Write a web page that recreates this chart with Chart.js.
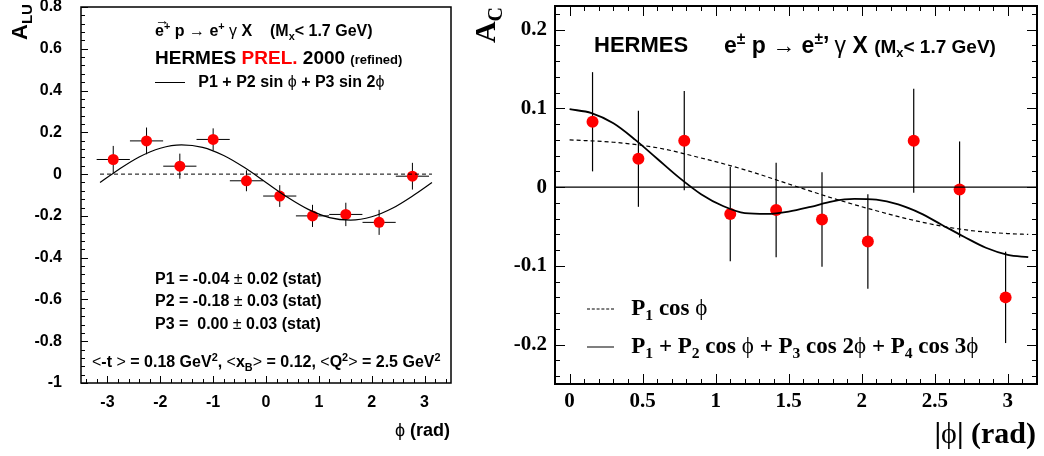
<!DOCTYPE html>
<html>
<head>
<meta charset="utf-8">
<script src="https://cdn.jsdelivr.net/npm/chart.js@4.4.0/dist/chart.umd.min.js"></script>
<style>
  body { margin: 0; background: #fff; }
  #wrap { position: relative; width: 1044px; height: 456px; overflow: hidden; }
  canvas { position: absolute; top: 0; }
  .lbl { position: absolute; white-space: nowrap; font-family: "Liberation Sans", Arial, sans-serif;
         font-weight: bold; color: #000; line-height: 1; transform: translateY(-50%); }
  .serif { font-family: "Liberation Serif", "Times New Roman", serif; }
  .sym { font-weight: normal; }
  sub, sup { font-size: 68%; line-height: 0; }
  .red { color: #ff0000; }
  .vec { position: relative; display: inline-block; }
  .vec i { position: absolute; left: 0; top: -0.68em; font-style: normal; font-weight: normal; font-size: 0.9em; }
  .key { display: inline-block; width: 27px; vertical-align: middle; }
</style>
</head>
<body>
<div id="wrap">
  <canvas id="alu" width="470" height="456" style="left:0"></canvas>
  <canvas id="ac" width="574" height="456" style="left:470px"></canvas>

  <!-- left panel text -->
  <div class="lbl" style="left:2px;top:22px;transform:translate(0,-50%) rotate(-90deg);transform-origin:center;font-size:22px">A<sub style="font-size:15px">LU</sub></div>
  <div class="lbl" style="left:155px;top:31px;font-size:16px"><span class="vec">e<i>&rarr;</i></span><sup>+</sup> p <span class="sym">&rarr;</span> e<sup>+</sup> <span class="sym">&gamma;</span> X &nbsp;&nbsp; (M<sub>x</sub>&lt; 1.7 GeV)</div>
  <div class="lbl" style="left:155px;top:57px;font-size:19px">HERMES <span class="red">PREL.</span> 2000 <span style="font-size:13px">(refined)</span></div>
  <div class="lbl" style="left:155px;top:82px;font-size:16px"><span class="key" style="width:30px;border-top:1.2px solid #000"></span>&nbsp;&nbsp; P1 + P2 sin <span class="sym">&#981;</span> + P3 sin 2<span class="sym">&#981;</span></div>
  <div class="lbl" style="left:155px;top:279px;font-size:16px">P1 = -0.04 <span class="sym">&plusmn;</span> 0.02 (stat)</div>
  <div class="lbl" style="left:155px;top:301px;font-size:16px">P2 = -0.18 <span class="sym">&plusmn;</span> 0.03 (stat)</div>
  <div class="lbl" style="left:155px;top:324px;font-size:16px">P3 = &nbsp;0.00 <span class="sym">&plusmn;</span> 0.03 (stat)</div>
  <div class="lbl" style="left:92px;top:362px;font-size:16px"><span class="sym">&lt;</span>-t <span class="sym">&gt;</span> = 0.18 GeV<sup>2</sup>, <span class="sym">&lt;</span>x<sub>B</sub><span class="sym">&gt;</span> = 0.12, <span class="sym">&lt;</span>Q<sup>2</sup><span class="sym">&gt;</span> = 2.5 GeV<sup>2</sup></div>
  <div class="lbl" style="right:594px;top:430px;font-size:18px"><span class="sym">&#981;</span> (rad)</div>

  <!-- right panel text -->
  <div class="lbl serif" style="left:467px;top:25px;transform:translate(0,-50%) rotate(-90deg);transform-origin:center;font-size:30px">A<sub style="font-size:20px">C</sub></div>
  <div class="lbl" style="left:594px;top:45px;font-size:22px">HERMES</div>
  <div class="lbl" style="left:724px;top:45px;font-size:23px">e<sup>&plusmn;</sup> p <span class="sym">&rarr;</span> e<sup>&plusmn;</sup>&rsquo; <span class="sym">&gamma;</span> X <span style="font-size:19px">(M<sub>x</sub>&lt; 1.7 GeV)</span></div>
  <div class="lbl serif" style="left:587px;top:307px;font-size:23px"><span class="key" style="border-top:1.2px dashed #000"></span>&nbsp;&nbsp; P<sub>1</sub> cos <span class="sym">&#981;</span></div>
  <div class="lbl serif" style="left:587px;top:345px;font-size:23px"><span class="key" style="border-top:1.6px solid #000"></span>&nbsp;&nbsp; P<sub>1</sub> + P<sub>2</sub> cos <span class="sym">&#981;</span> + P<sub>3</sub> cos 2<span class="sym">&#981;</span> + P<sub>4</sub> cos 3<span class="sym">&#981;</span></div>
  <div class="lbl serif" style="right:8px;top:433px;font-size:30px">|<span class="sym">&#981;</span>| (rad)</div>
</div>

<script>
// ---- beam-spin asymmetry A_LU vs phi ----
const aluPhi  = [-2.89, -2.26, -1.63, -1.00, -0.37, 0.26, 0.88, 1.51, 2.14, 2.77];
const aluVal  = [0.070, 0.159, 0.038, 0.166, -0.032, -0.105, -0.200, -0.193, -0.231, -0.010];
const aluErr  = [0.065, 0.064, 0.060, 0.053, 0.050, 0.052, 0.053, 0.056, 0.060, 0.064];
const aluBinHalf = [0.314, 0.314, 0.314, 0.314, 0.314, 0.314, 0.314, 0.314, 0.314, 0.314];
// fitted curve P1 + P2 sin(phi) + P3 sin(2 phi)
const aluFitPhi = [-3.14, -2.8, -2.4, -2.0, -1.6, -1.2, -0.8, -0.4, 0.0, 0.4, 0.8, 1.2, 1.6, 2.0, 2.4, 2.8, 3.14];
const aluFitVal = [-0.040, 0.020, 0.082, 0.124, 0.140, 0.128, 0.089, 0.030, -0.040, -0.110, -0.169, -0.208, -0.220, -0.204, -0.162, -0.100, -0.040];
const aluXTicks = [-3, -2, -1, 0, 1, 2, 3];
const aluYTicks = [-1, -0.8, -0.6, -0.4, -0.2, 0, 0.2, 0.4, 0.6, 0.8];

// ---- beam-charge asymmetry A_C vs |phi| ----
const acPhi = [0.157, 0.471, 0.785, 1.100, 1.414, 1.728, 2.042, 2.356, 2.670, 2.985];
const acVal = [0.083, 0.036, 0.059, -0.034, -0.029, -0.041, -0.069, 0.059, -0.003, -0.140];
const acErr = [0.063, 0.061, 0.063, 0.060, 0.060, 0.060, 0.060, 0.066, 0.061, 0.058];
// P1 cos(phi)
const acCosPhi = [0, 0.3, 0.6, 0.9, 1.2, 1.5, 1.8, 2.1, 2.4, 2.7, 3.0, 3.14];
const acCosVal = [0.060, 0.057, 0.050, 0.037, 0.022, 0.004, -0.014, -0.030, -0.044, -0.054, -0.059, -0.060];
// P1 + P2 cos(phi) + P3 cos(2 phi) + P4 cos(3 phi)
const acFitPhi = [0, 0.15, 0.3, 0.45, 0.6, 0.75, 0.9, 1.05, 1.2, 1.35, 1.5, 1.65, 1.8, 1.95, 2.1, 2.25, 2.4, 2.55, 2.7, 2.85, 3.0, 3.14];
const acFitVal = [0.099, 0.094, 0.081, 0.060, 0.036, 0.012, -0.009, -0.024, -0.033, -0.034, -0.031, -0.025, -0.018, -0.015, -0.016, -0.022, -0.033, -0.048, -0.063, -0.077, -0.086, -0.089];
const acXTicks = [0, 0.5, 1, 1.5, 2, 2.5, 3];
const acYTicks = [-0.2, -0.1, 0, 0.1, 0.2];

const xy = (xs, ys) => xs.map((x, i) => ({ x: x, y: ys[i] }));

// error bars drawn under the markers
const errorBars = {
  id: 'errorBars',
  beforeDatasetsDraw(chart, args, o) {
    const { ctx, scales: { x, y } } = chart;
    ctx.save();
    ctx.strokeStyle = '#000';
    ctx.lineWidth = o.width;
    o.xs.forEach((xv, i) => {
      const px = x.getPixelForValue(xv);
      const py = y.getPixelForValue(o.ys[i]);
      ctx.beginPath();
      ctx.moveTo(px, y.getPixelForValue(o.ys[i] + o.yErr[i]));
      ctx.lineTo(px, y.getPixelForValue(o.ys[i] - o.yErr[i]));
      if (o.xErr) {
        ctx.moveTo(x.getPixelForValue(xv - o.xErr[i]), py);
        ctx.lineTo(x.getPixelForValue(xv + o.xErr[i]), py);
      }
      ctx.stroke();
    });
    ctx.restore();
  }
};

// box frame with inward major/minor ticks
const frame = {
  id: 'frame',
  afterDraw(chart, args, o) {
    const { ctx, chartArea: a, scales: { x, y } } = chart;
    ctx.save();
    ctx.strokeStyle = '#000';
    ctx.lineWidth = o.lineWidth;
    ctx.strokeRect(a.left, a.top, a.right - a.left, a.bottom - a.top);
    ctx.lineWidth = 1;
    ctx.beginPath();
    const isMajor = (v, majors) => majors.some(m => Math.abs(m - v) < 1e-6);
    for (let k = Math.ceil((x.min - 1e-9) / o.xMinor); k * o.xMinor <= x.max + 1e-9; k++) {
      const v = k * o.xMinor;
      const px = Math.round(x.getPixelForValue(v)) + 0.5;
      const len = isMajor(v, o.xMajor) ? o.major : o.minor;
      ctx.moveTo(px, a.bottom); ctx.lineTo(px, a.bottom - len);
      if (o.allSides) { ctx.moveTo(px, a.top); ctx.lineTo(px, a.top + len); }
    }
    for (let k = Math.ceil((y.min - 1e-9) / o.yMinor); k * o.yMinor <= y.max + 1e-9; k++) {
      const v = k * o.yMinor;
      const py = Math.round(y.getPixelForValue(v)) + 0.5;
      const len = isMajor(v, o.yMajor) ? o.major : o.minor;
      ctx.moveTo(a.left, py); ctx.lineTo(a.left + len, py);
      if (o.allSides) { ctx.moveTo(a.right, py); ctx.lineTo(a.right - len, py); }
    }
    ctx.stroke();
    ctx.restore();
  }
};

// no extra room for half-labels at the axis ends
const noEdgePad = s => { s.paddingTop = 0; s.paddingBottom = 0; s.paddingLeft = 0; s.paddingRight = 0; };

function axes(cfg) {
  return {
    x: {
      type: 'linear', min: cfg.xMin, max: cfg.xMax,
      grid: { display: false, drawTicks: false }, border: { display: false },
      afterBuildTicks: s => { s.ticks = cfg.xTicks.map(v => ({ value: v })); },
      afterFit: s => { s.height = cfg.xHeight; noEdgePad(s); },
      ticks: { color: '#000', padding: cfg.xPad, maxRotation: 0, font: cfg.font, callback: v => String(v) }
    },
    y: {
      type: 'linear', min: cfg.yMin, max: cfg.yMax,
      grid: { display: false, drawTicks: false }, border: { display: false },
      afterBuildTicks: s => { s.ticks = cfg.yTicks.map(v => ({ value: v })); },
      afterFit: s => { s.width = cfg.yWidth; noEdgePad(s); },
      ticks: { color: '#000', padding: cfg.yPad, font: cfg.font, callback: v => String(v) }
    }
  };
}

new Chart(document.getElementById('alu'), {
  type: 'scatter',
  data: {
    datasets: [
      { data: xy([-3.14, 3.14], [0, 0]), showLine: true, borderColor: '#000', borderWidth: 1, borderDash: [4, 3], pointRadius: 0 },
      { data: xy(aluFitPhi, aluFitVal), showLine: true, borderColor: '#000', borderWidth: 1.2, pointRadius: 0, cubicInterpolationMode: 'monotone' },
      { data: xy(aluPhi, aluVal), pointRadius: 5.5, pointBackgroundColor: '#ff0000', pointBorderWidth: 0 }
    ]
  },
  options: {
    responsive: false, animation: false, devicePixelRatio: 1,
    layout: { padding: { top: 7, right: 19, left: 0, bottom: 0 } },
    scales: axes({
      xMin: -3.5, xMax: 3.5, yMin: -1, yMax: 0.8,
      xTicks: aluXTicks, yTicks: aluYTicks,
      xHeight: 73, yWidth: 81, xPad: 10, yPad: 19,
      font: { family: '"Liberation Sans", Arial, sans-serif', weight: 'bold', size: 16 }
    }),
    plugins: {
      legend: { display: false }, tooltip: { enabled: false },
      errorBars: { xs: aluPhi, ys: aluVal, yErr: aluErr, xErr: aluBinHalf, width: 1 },
      frame: { lineWidth: 1.5, xMinor: 0.2, yMinor: 0.04, xMajor: aluXTicks, yMajor: aluYTicks, major: 7, minor: 4, allSides: false }
    }
  },
  plugins: [errorBars, frame]
});

new Chart(document.getElementById('ac'), {
  type: 'scatter',
  data: {
    datasets: [
      { data: xy([-0.1, 3.2], [0, 0]), showLine: true, borderColor: '#000', borderWidth: 1.2, pointRadius: 0 },
      { data: xy(acCosPhi, acCosVal), showLine: true, borderColor: '#000', borderWidth: 1.2, borderDash: [4, 3], pointRadius: 0, cubicInterpolationMode: 'monotone' },
      { data: xy(acFitPhi, acFitVal), showLine: true, borderColor: '#000', borderWidth: 1.8, pointRadius: 0, cubicInterpolationMode: 'monotone' },
      { data: xy(acPhi, acVal), pointRadius: 6, pointBackgroundColor: '#ff0000', pointBorderWidth: 0 }
    ]
  },
  options: {
    responsive: false, animation: false, devicePixelRatio: 1,
    layout: { padding: { top: 6, right: 7, left: 0, bottom: 0 } },
    scales: axes({
      xMin: -0.1, xMax: 3.2, yMin: -0.25, yMax: 0.23,
      xTicks: acXTicks, yTicks: acYTicks,
      xHeight: 72, yWidth: 85, xPad: 5, yPad: 8,
      font: { family: '"Liberation Serif", "Times New Roman", serif', weight: 'bold', size: 21 }
    }),
    plugins: {
      legend: { display: false }, tooltip: { enabled: false },
      errorBars: { xs: acPhi, ys: acVal, yErr: acErr, width: 1.2 },
      frame: { lineWidth: 2, xMinor: 0.1, yMinor: 0.02, xMajor: acXTicks, yMajor: acYTicks, major: 10, minor: 5, allSides: true }
    }
  },
  plugins: [errorBars, frame]
});
</script>
</body>
</html>
